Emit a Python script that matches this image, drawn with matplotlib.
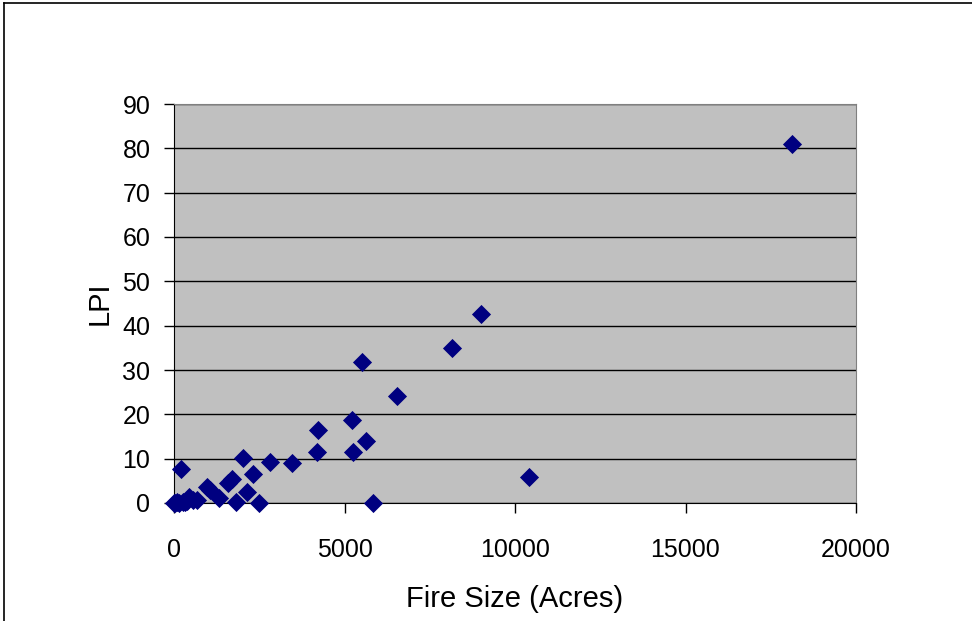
import matplotlib.pyplot as plt
from matplotlib.lines import Line2D

plt.rcParams['font.family'] = ['Liberation Sans', 'DejaVu Sans']

# fire size (acres) and largest patch index for each fire
fire_size = [18120, 9000, 8150, 6550, 5510, 10410, 5840, 5220, 5630, 5250,
             4220, 4190, 3470, 2816, 2500, 2330, 2010, 2150, 1830, 1710,
             1570, 1330, 960, 1060, 200, 450, 570, 665, 30, 90, 160, 250,
             330, 380, 10]
lpi = [81.0, 42.6, 35.0, 24.1, 31.8, 5.9, 0.0, 18.7, 14.0, 11.5,
       16.5, 11.4, 9.1, 9.3, 0.0, 6.6, 10.1, 2.4, 0.3, 5.4,
       4.5, 1.1, 3.7, 3.0, 7.7, 1.4, 0.7, 0.6, 0.1, 0.2, 0.0, 0.3,
       0.2, 0.5, 0.0]

fig = plt.figure(figsize=(9.72, 6.21), dpi=100)
ax = fig.add_axes([174 / 972, 1 - 503 / 621, 682 / 972, 399 / 621])
ax.set_facecolor('#C0C0C0')

ax.scatter(fire_size, lpi, marker='D', s=95, color='#000080', zorder=3,
           clip_on=False, linewidths=0)

ax.set_xlim(0, 20000)
ax.set_ylim(0, 90)
ax.set_xticks(range(0, 20001, 5000))
ax.set_yticks(range(0, 91, 10))
ax.yaxis.grid(True, color='black', linewidth=1)
ax.set_axisbelow(True)

for side in ('top', 'right'):
    ax.spines[side].set_color('#808080')
for side in ('left', 'bottom'):
    ax.spines[side].set_color('black')
ax.tick_params(direction='out', length=7, width=1, labelsize=18)
ax.tick_params(axis='y', pad=10)
ax.tick_params(axis='x', pad=18)

ax.set_xlabel('Fire Size (Acres)', fontsize=21, labelpad=17)
ax.set_ylabel('LPI', fontsize=21, labelpad=6)

# chart area frame
fig.add_artist(Line2D([4 / 972, 4 / 972], [0, 1 - 3 / 621], color='black', lw=1.2))
fig.add_artist(Line2D([4 / 972, 1], [1 - 3 / 621, 1 - 3 / 621], color='black', lw=1.2))

fig.savefig('out.png', dpi=100)
